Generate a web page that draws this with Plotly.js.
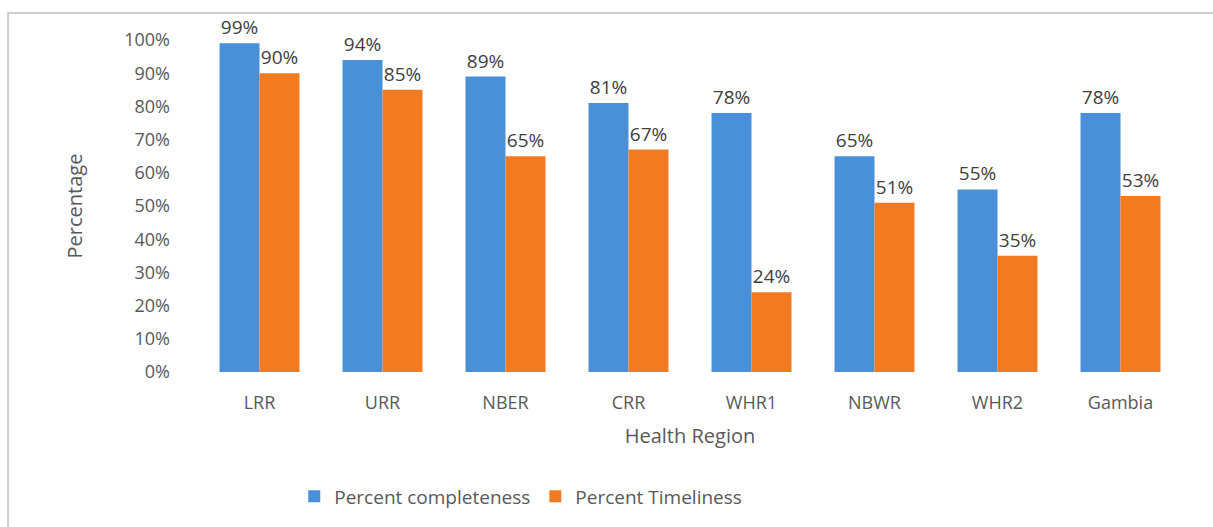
<!DOCTYPE html>
<html>
<head>
<meta charset="utf-8">
<script src="https://cdn.plot.ly/plotly-3.0.1.min.js"></script>
<style>html,body{margin:0;padding:0;background:#fff;}#chart{width:1213px;height:527px;}</style>
</head>
<body>
<div id="chart"></div>
<script>
const regions = ["LRR", "URR", "NBER", "CRR", "WHR1", "NBWR", "WHR2", "Gambia"];
const completeness = [99, 94, 89, 81, 78, 65, 55, 78];
const timeliness = [90, 85, 65, 67, 24, 51, 35, 53];
const yTickVals = [0, 10, 20, 30, 40, 50, 60, 70, 80, 90, 100];
const yTickLabels = ["0%", "10%", "20%", "30%", "40%", "50%", "60%", "70%", "80%", "90%", "100%"];

const fontFam = "Open Sans, Liberation Sans, sans-serif";
const textColor = "#595959";

const traces = [
  {
    type: "bar", name: "Percent completeness", x: regions, y: completeness,
    marker: {color: "#4A90D9"},
    text: completeness.map(v => v + "%"), textposition: "outside",
    textfont: {family: fontFam, size: 19, color: "#404040"},
    cliponaxis: false
  },
  {
    type: "bar", name: "Percent Timeliness", x: regions, y: timeliness,
    marker: {color: "#F27B22"},
    text: timeliness.map(v => v + "%"), textposition: "outside",
    textfont: {family: fontFam, size: 19, color: "#404040"},
    cliponaxis: false
  }
];

const layout = {
  width: 1213, height: 527,
  margin: {l: 198, r: 31, t: 40, b: 155},
  paper_bgcolor: "#fff", plot_bgcolor: "#fff",
  font: {family: fontFam, color: textColor, size: 18},
  barmode: "group", bargap: 0.35, bargroupgap: 0,
  showlegend: true,
  legend: {orientation: "h", x: 0.328, xanchor: "center", y: -0.375, yanchor: "middle",
           itemwidth: 30, font: {size: 19, color: textColor}},
  xaxis: {
    showgrid: false, zeroline: false, showline: false,
    ticklabelstandoff: 18,
    tickfont: {size: 18, color: textColor},
    title: {text: "Health Region", font: {size: 20, color: textColor}, standoff: 15}
  },
  yaxis: {
    range: [0, 100], tickmode: "array", tickvals: yTickVals, ticktext: yTickLabels,
    showgrid: false, zeroline: false, showline: false,
    ticklabelstandoff: 27,
    tickfont: {size: 18, color: textColor},
    title: {text: "Percentage", font: {size: 20, color: textColor}, standoff: 36}
  },
  shapes: [{
    type: "rect", xref: "paper", yref: "paper",
    x0: -0.193, x1: 1.2, y0: -0.6, y1: 1.081,
    line: {color: "#d0d0d0", width: 2}, fillcolor: "rgba(0,0,0,0)", layer: "below"
  }]
};

Plotly.newPlot("chart", traces, layout, {displayModeBar: false, staticPlot: true});
</script>
</body>
</html>
